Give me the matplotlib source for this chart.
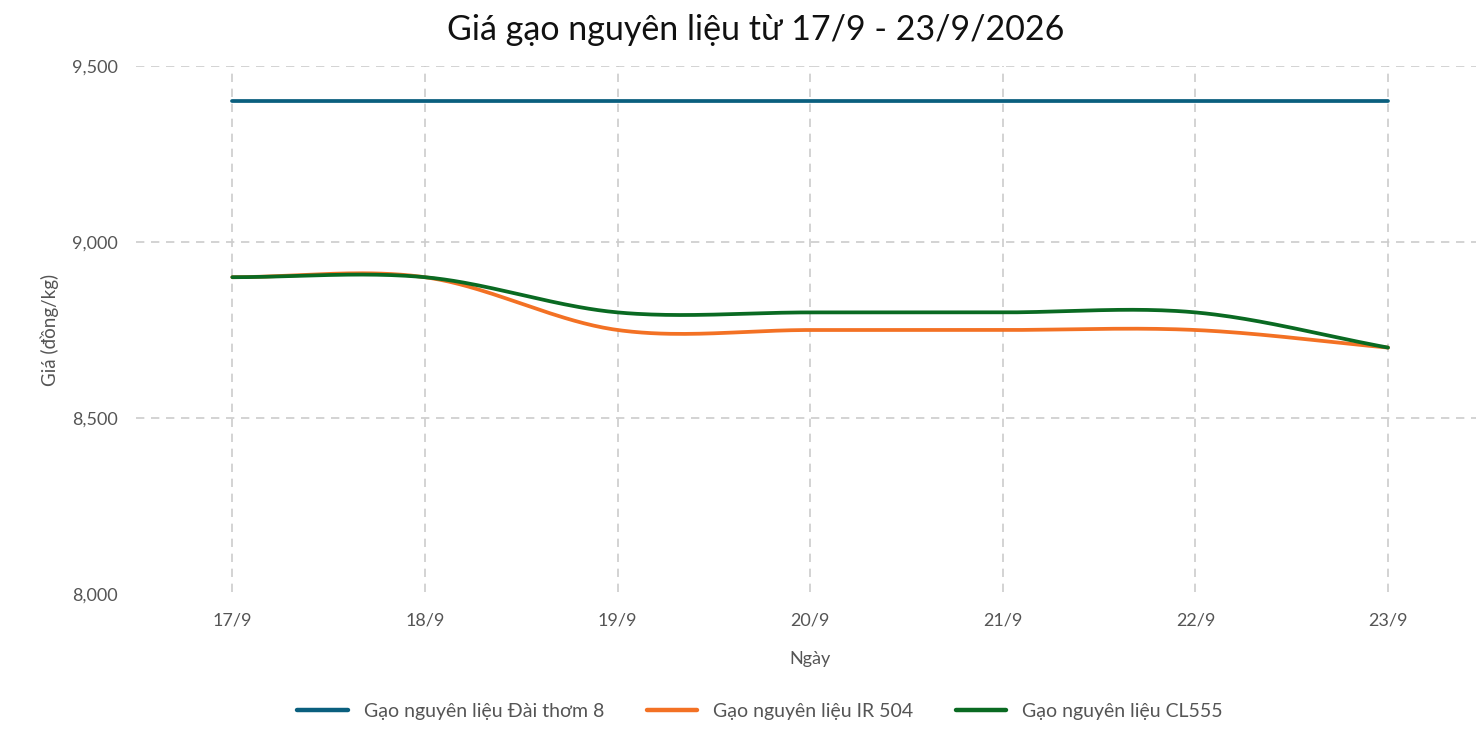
import numpy as np
import matplotlib
matplotlib.use("Agg")
import matplotlib.pyplot as plt
from matplotlib.ticker import FuncFormatter

plt.rcParams['font.family'] = ['Lato', 'DejaVu Sans']

dates = ["17/9", "18/9", "19/9", "20/9", "21/9", "22/9", "23/9"]
dai_thom_8 = [9400, 9400, 9400, 9400, 9400, 9400, 9400]
ir_504 = [8900, 8900, 8750, 8750, 8750, 8750, 8700]
cl555 = [8900, 8900, 8800, 8800, 8800, 8800, 8700]

series_names = ["Gạo nguyên liệu Đài thơm 8", "Gạo nguyên liệu IR 504", "Gạo nguyên liệu CL555"]
colors = ["#0a5f7e", "#f37124", "#0a6a22"]


def smooth(xs, ys, n=40):
    xs = np.asarray(xs, float)
    ys = np.asarray(ys, float)
    m = len(xs)
    t = np.zeros(m)
    for i in range(m):
        if i == 0:
            t[i] = (ys[1] - ys[0]) / (xs[1] - xs[0])
        elif i == m - 1:
            t[i] = (ys[-1] - ys[-2]) / (xs[-1] - xs[-2])
        else:
            t[i] = (ys[i + 1] - ys[i - 1]) / (xs[i + 1] - xs[i - 1])
    ox, oy = [], []
    for i in range(m - 1):
        h = xs[i + 1] - xs[i]
        s = np.linspace(0, 1, n, endpoint=(i == m - 2))
        h00 = 2 * s**3 - 3 * s**2 + 1
        h10 = s**3 - 2 * s**2 + s
        h01 = -2 * s**3 + 3 * s**2
        h11 = s**3 - s**2
        ox.append(xs[i] + s * h)
        oy.append(h00 * ys[i] + h10 * h * t[i] + h01 * ys[i + 1] + h11 * h * t[i + 1])
    return np.concatenate(ox), np.concatenate(oy)


fig = plt.figure(figsize=(14.76, 7.34), dpi=100)
ax = fig.add_axes([136 / 1476, 1 - 594 / 734, 1 - 136 / 1476, (594 - 66) / 734])

x = np.arange(len(dates))
for vals, name, c in zip([dai_thom_8, ir_504, cl555], series_names, colors):
    sx, sy = smooth(x, vals)
    ax.plot(sx, sy, color=c, lw=2.7, label=name, solid_capstyle='round')

ax.set_xlim(-0.5, (1476 - 232) / ((1388 - 232) / 6))
ax.set_ylim(8000, 9500)
ax.set_yticks([8000, 8500, 9000, 9500])
ax.yaxis.set_major_formatter(FuncFormatter(lambda v, p: f"{int(v):,}"))
ax.set_xticks(x)
ax.set_xticklabels(dates)

for s in ax.spines.values():
    s.set_visible(False)
ax.tick_params(axis='both', length=0, labelsize=13, colors='#555555')
ax.tick_params(axis='x', pad=13)
ax.tick_params(axis='y', pad=13)

for yv in [8500, 9000, 9500]:
    ax.axhline(yv, color='#cccccc', lw=1.2, ls=(0, (5, 4)), zorder=0)
for xv in x:
    ax.plot([xv, xv], [8005, 9500], color='#cccccc', lw=1.2, ls=(0, (5, 4)), zorder=0)

fig.text(756 / 1476, 1 - 30 / 734, "Giá gạo nguyên liệu từ 17/9 - 23/9/2026", ha='center', va='center',
         fontsize=24.5, color='#111111')
fig.text(50 / 1476, 1 - 330 / 734, "Giá (đồng/kg)", rotation=90, ha='center', va='center',
         fontsize=13.5, color='#555555')
fig.text(810 / 1476, 1 - 659 / 734, "Ngày", ha='center', va='center', fontsize=13, color='#555555')

leg = fig.legend(loc='center', bbox_to_anchor=(760 / 1476, 1 - 711 / 734), ncol=3, frameon=False,
                 fontsize=14, handlelength=2.6, columnspacing=2.2, handletextpad=0.8)
for t in leg.get_texts():
    t.set_color('#555555')
for l in leg.get_lines():
    l.set_linewidth(3.2)

fig.savefig("out.png", dpi=100)
